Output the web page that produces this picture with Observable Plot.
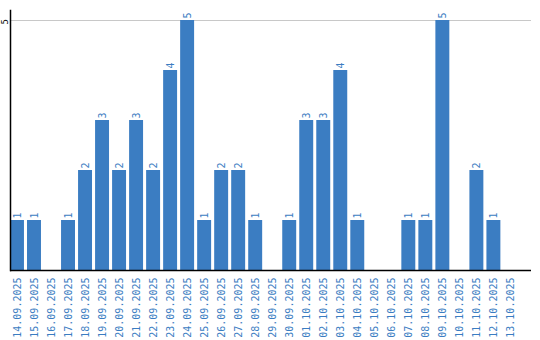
<!DOCTYPE html>
<html>
<head>
<meta charset="utf-8">
<script src="https://cdn.jsdelivr.net/npm/d3@7"></script>
<script src="https://cdn.jsdelivr.net/npm/@observablehq/plot@0.6"></script>
<style>
  html, body { margin: 0; padding: 0; background: #fff; }
  #chart svg { display: block; }
</style>
</head>
<body>
<div id="chart"></div>
<script>
const dates = ["14.09.2025","15.09.2025","16.09.2025","17.09.2025","18.09.2025","19.09.2025","20.09.2025","21.09.2025","22.09.2025","23.09.2025","24.09.2025","25.09.2025","26.09.2025","27.09.2025","28.09.2025","29.09.2025","30.09.2025","01.10.2025","02.10.2025","03.10.2025","04.10.2025","05.10.2025","06.10.2025","07.10.2025","08.10.2025","09.10.2025","10.10.2025","11.10.2025","12.10.2025","13.10.2025"];
const counts = [1,1,0,1,2,3,2,3,2,4,5,1,2,2,1,0,1,3,3,4,1,0,0,1,1,5,0,2,1,0];
const yTicks = [5];

const data = dates.map((d, i) => ({date: d, value: counts[i]}));
const blue = "#3b7dc2";
const mono = "DejaVu Sans Mono";

const chart = Plot.plot({
  width: 540,
  height: 340,
  marginTop: 10,
  marginLeft: 10,
  marginRight: 9,
  marginBottom: 70,
  style: {background: "#fff", fontFamily: mono},
  x: {type: "band", domain: dates, paddingInner: 0.18, paddingOuter: 0.4, align: 0, round: false},
  y: {domain: [0, 5.2], axis: null},
  marks: [
    Plot.ruleY(yTicks, {stroke: "#c8c8c8", strokeWidth: 1}),
    Plot.barY(data, {x: "date", y: "value", fill: blue}),
    Plot.text(data.filter(d => d.value > 0), {
      x: "date", y: "value", text: d => String(d.value),
      rotate: -90, textAnchor: "start", dy: -2,
      fill: blue, fontSize: 10, fontFamily: mono
    }),
    Plot.axisX({tickSize: 0, tickPadding: 7, tickRotate: -90, fill: blue, fontSize: 10, fontFamily: mono, label: null}),
    Plot.text(yTicks, {y: d => d, text: d => String(d), frameAnchor: "left", dx: -5, dy: 4, rotate: -90, fill: "#000", fontSize: 9, fontFamily: mono}),
    Plot.ruleY([0], {stroke: "#000", strokeWidth: 1.5}),
    Plot.frame({anchor: "left", stroke: "#000", strokeWidth: 1.5})
  ]
});
document.getElementById("chart").appendChild(chart);
</script>
</body>
</html>
